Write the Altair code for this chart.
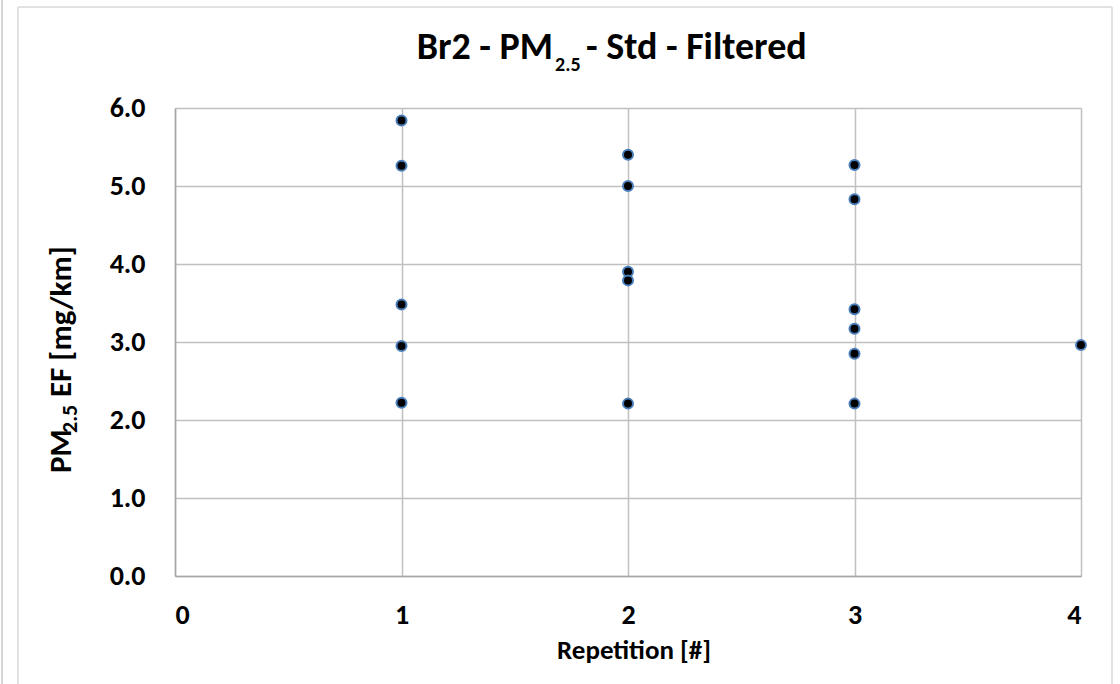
import altair as alt
import pandas as pd

# ---- data ----
reps = [1, 1, 1, 1, 1,
        2, 2, 2, 2, 2,
        3, 3, 3, 3, 3, 3,
        4]
ef = [5.84, 5.26, 3.48, 2.95, 2.22,
      5.40, 5.00, 3.90, 3.79, 2.21,
      5.27, 4.83, 3.42, 3.17, 2.85, 2.21,
      2.96]
x_ticks = [0, 1, 2, 3, 4]
y_ticks = [0, 1, 2, 3, 4, 5, 6]

FONT = "Carlito, Lato, sans-serif"
df = pd.DataFrame({"rep": reps, "ef": ef})

W, H = 906, 468
L, T = 175, 108

GRID = "#c0c0c0"
DOMAIN = "#a6a6a6"
TICK_SIZE = 28

points = alt.Chart(df).mark_circle(
    size=100, fill="black", stroke="#4a7ebb", strokeWidth=2, opacity=1
).encode(
    x=alt.X("rep:Q",
            scale=alt.Scale(domain=[0, 4], nice=False, zero=True),
            axis=alt.Axis(values=x_ticks, format="d", title=None, grid=True,
                          ticks=False, labelFont=FONT, labelFontSize=TICK_SIZE,
                          labelFontWeight="bold", labelColor="black",
                          labelBaseline="middle", labelPadding=39,
                          domainColor=DOMAIN, domainWidth=1.5,
                          gridColor=GRID, gridWidth=1.5)),
    y=alt.Y("ef:Q",
            scale=alt.Scale(domain=[0, 6], nice=False, zero=True),
            axis=alt.Axis(values=y_ticks, format=".1f", title=None, grid=True,
                          ticks=False, labelFont=FONT, labelFontSize=TICK_SIZE,
                          labelFontWeight="bold", labelColor="black",
                          labelPadding=30, labelBaseline="middle",
                          domainColor=DOMAIN, domainWidth=1.5,
                          gridColor=GRID, gridWidth=1.5)),
)


def one():
    return alt.Chart(alt.Data(values=[{}]))


def txt(s, x, y, size, align="left", angle=0):
    return one().mark_text(
        text=s, font=FONT, fontSize=size, fontWeight="bold", align=align,
        baseline="alphabetic", angle=angle, color="black"
    ).encode(x=alt.value(x), y=alt.value(y))


def vrule(x, y1, y2, color):
    return one().mark_rule(color=color, strokeWidth=1.5).encode(
        x=alt.value(x), y=alt.value(y1), y2=alt.value(y2))


def hrule(y, x1, x2, color):
    return one().mark_rule(color=color, strokeWidth=1.5).encode(
        y=alt.value(y), x=alt.value(x1), x2=alt.value(x2))


FRAME = "#d9d9d9"
frame = [
    vrule(2 - L, -T, 700, "#c8c8c8"),
    vrule(18 - L, 7 - T, 700, FRAME),
    vrule(1112 - L, 7 - T, 700, FRAME),
    hrule(7 - T, 18 - L, 1112 - L, FRAME),
]

titles = [
    # chart title: Br2 - PM_2.5 - Std - Filtered
    txt("Br2 - PM", 553 - L, 59 - T, 38, align="right"),
    txt("2.5", 555 - L, 71 - T, 20, align="left"),
    txt("- Std - Filtered", 586 - L, 59 - T, 38, align="left"),
    # y-axis title: PM_2.5 EF [mg/km]
    txt("PM", 71 - L, 473 - T, 31, align="left", angle=270),
    txt("2.5", 77 - L, 433 - T, 22, align="left", angle=270),
    txt("EF [mg/km]", 71 - L, 397 - T, 31, align="left", angle=270),
    # x-axis title
    txt("Repetition [#]", 634 - L, 659 - T, 27, align="center"),
]

chart = alt.layer(*frame, points, *titles).properties(
    width=W, height=H,
    autosize=alt.AutoSizeParams(type="none"),
    padding={"left": L, "top": T, "right": 1120 - L - W, "bottom": 684 - T - H},
    background="white",
).configure_view(stroke=None)

chart.save("out.html", embed_options={"renderer": "svg", "actions": False})
